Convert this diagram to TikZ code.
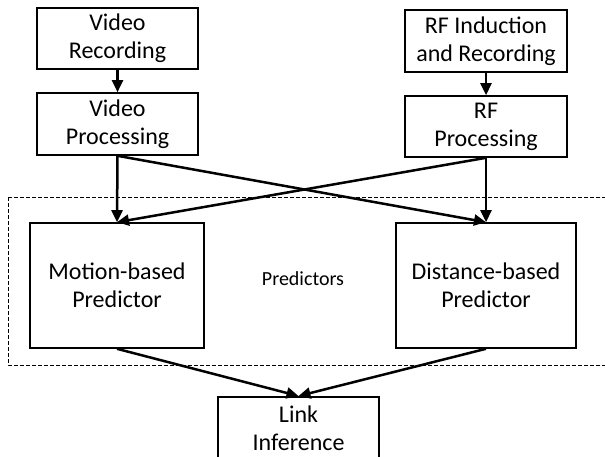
\documentclass[tikz,border=0pt]{standalone}
\usepackage{fontspec}
\setmainfont{Carlito}
\usetikzlibrary{arrows.meta}
\begin{document}
\begin{tikzpicture}[x=1pt,y=-1pt,
  blk/.style={draw, line width=1.6pt, align=center, inner sep=0pt, font=\fontsize{24}{28}\selectfont},
  arr/.style={line width=2.5pt, -{Triangle[length=12pt,width=11pt]}},
  grp/.style={draw, line width=1pt, dash pattern=on 4pt off 2pt}]
\clip (0,0) rectangle (605,456);
\useasboundingbox (0,0) rectangle (605,456);
\fill[white] (0,0) rectangle (605,456);
\draw[grp] (8,197) rectangle (640,365);
\node[blk, minimum width=161pt, minimum height=61pt] (vr) at (117.5,38.5) {Video\\Recording};
\node[blk, minimum width=161pt, minimum height=62pt] (vp) at (117.5,124) {Video\\Processing};
\node[blk, minimum width=162pt, minimum height=62pt] (rfi) at (486,41) {RF Induction\\and Recording};
\node[blk, minimum width=162pt, minimum height=61pt] (rfp) at (486,126.5) {RF\\Processing};
\node[blk, minimum width=174pt, minimum height=125pt] (mp) at (117,285.5) {Motion-based\\Predictor};
\node[blk, minimum width=180pt, minimum height=125pt] (dp) at (486,285.5) {Distance-based\\Predictor};
\node[blk, minimum width=161pt, minimum height=62pt, anchor=north] (li) at (298.5,396) {Link\\Inference};
\node[font=\fontsize{20}{24}\selectfont] (pl) at (303,279) {Predictors};
\draw[arr] (vr) -- (vp);
\draw[arr] (rfi) -- (rfp);
\draw[arr] (vp.south) -- (mp.north);
\draw[arr] (vp.south) -- (dp.north);
\draw[arr] (rfp.south) -- (mp.north);
\draw[arr] (rfp.south) -- (dp.north);
\draw[arr] (mp.south) -- (li.north);
\draw[arr] (dp.south) -- (li.north);
\end{tikzpicture}
\end{document}
